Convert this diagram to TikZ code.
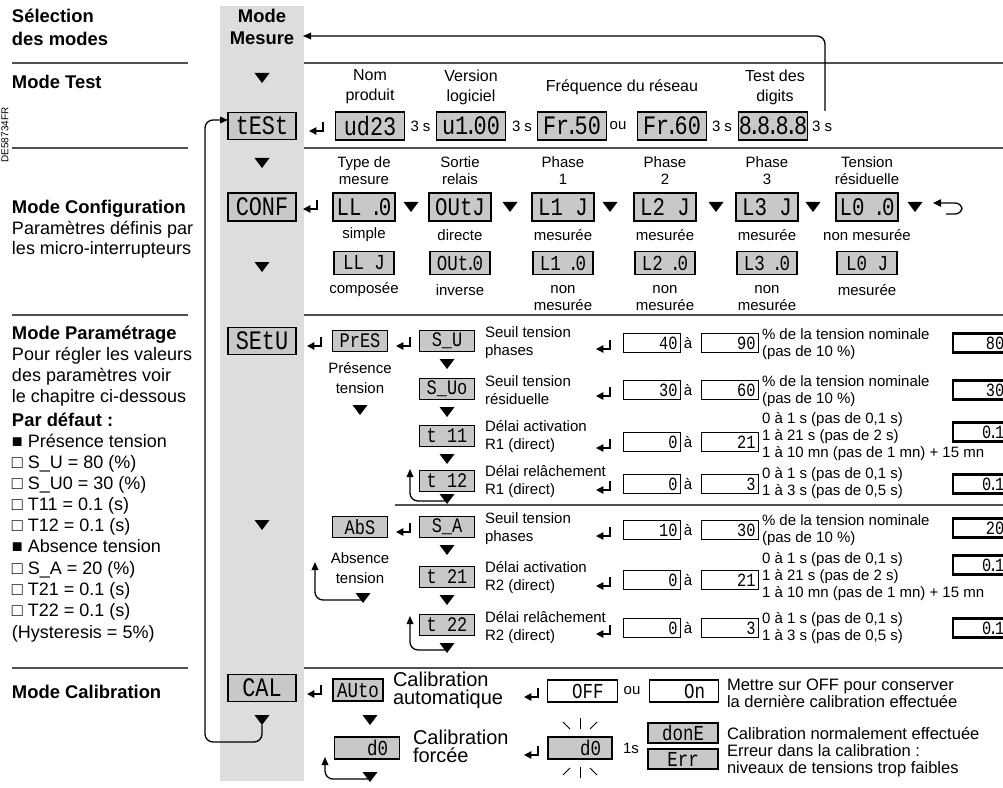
\documentclass[tikz,border=0pt]{standalone}
\usepackage{fontspec}
\setmainfont{Liberation Sans}
\newfontfamily\dispfont[FakeStretch=0.82]{Liberation Mono}
\usetikzlibrary{arrows.meta}
\definecolor{bandgray}{RGB}{221,221,221}
\definecolor{dispgray}{RGB}{200,200,200}
\definecolor{rulegray}{RGB}{80,80,80}
\newcommand\dd{\kern-0.06em\makebox[0.32em]{.}\kern-0.06em}
\newcommand\setuprow[8]{%
  \pic at (605,#2+6) {enter};
  \node[numbox] (#1lo) at (651.5,#2) {#3};
  \node[lab] (#1a) at (688,#2) {à};
  \node[numbox] (#1hi) at (729.5,#2) {#4};
  \node[labl3] (#1t) at (762,#5) {#6};
  \node[defbox] (#1d) at (983,#7) {#8};
}
\begin{document}
\begin{tikzpicture}[x=0.75pt,y=-0.75pt,
  every node/.style={inner sep=0pt,outer sep=0pt},
  tri/.pic={\fill (-7.5,-5) -- (7.5,-5) -- (0,5) -- cycle;
            \coordinate (-w) at (-2,2); \coordinate (-tip) at (0,5);},
  enter/.pic={\draw[line width=1.1pt,-{Triangle[length=5.5pt,width=5.5pt]}] (5,-9) -- (5,0) -- (-9,0);},
  bandbox/.style={draw,fill=dispgray,line width=1pt,minimum width=51pt,minimum height=20pt,
    font=\dispfont\fontsize{20}{20}\selectfont},
  testbox/.style={bandbox,minimum width=51.75pt,minimum height=21pt},
  confbox/.style={bandbox,minimum width=46.5pt,minimum height=21pt,line width=1.7pt,
    font=\dispfont\fontsize{19}{19}\selectfont},
  confboxb/.style={bandbox,minimum width=45pt,minimum height=17.25pt,line width=0.8pt,
    font=\dispfont\fontsize{16}{16}\selectfont},
  sbox/.style={draw,fill=dispgray,line width=0.9pt,minimum width=41.25pt,minimum height=15.75pt,
    font=\dispfont\fontsize{15.5}{15.5}\selectfont},
  numbox/.style={draw,fill=white,line width=0.7pt,minimum width=42.75pt,minimum height=14.25pt,
    text width=39pt,align=right,font=\dispfont\fontsize{14}{14}\selectfont},
  defbox/.style={draw,fill=white,line width=1.7pt,minimum width=45pt,minimum height=14.25pt,
    text width=32pt,align=right,font=\dispfont\fontsize{14}{14}\selectfont},
  autobox/.style={draw,fill=dispgray,line width=1.7pt,minimum width=37.5pt,minimum height=16.5pt,
    font=\dispfont\fontsize{16}{16}\selectfont},
  wbox/.style={draw,fill=white,line width=0.8pt,minimum width=52pt,minimum height=16.5pt,
    font=\dispfont\fontsize{16}{16}\selectfont},
  cbox/.style={draw,fill=dispgray,line width=0.9pt,minimum width=48.75pt,minimum height=16.5pt,
    font=\dispfont\fontsize{16}{16}\selectfont},
  rbox/.style={draw,fill=dispgray,line width=0.9pt,minimum width=52.5pt,minimum height=15pt,
    font=\dispfont\fontsize{16}{16}\selectfont},
  lab/.style={font=\fontsize{11.25}{12.75}\selectfont,align=center},
  labT/.style={font=\fontsize{12}{15}\selectfont,align=center},
  labl/.style={font=\fontsize{11.25}{13.5}\selectfont,align=left,anchor=west},
  labl3/.style={font=\fontsize{11.25}{12.75}\selectfont,align=left,anchor=west},
  leftb/.style={font=\bfseries\fontsize{13.8}{16}\selectfont,anchor=base west},
  leftr/.style={font=\fontsize{13.5}{16}\selectfont,anchor=base west},
  calf/.style={font=\fontsize{15}{13.5}\selectfont,align=left,anchor=west},
  calm/.style={font=\fontsize{12.4}{12.75}\selectfont,align=left,anchor=west},
  rule/.style={rulegray,line width=1.1pt},
  conn/.style={line width=1pt,rounded corners=6pt,-{Triangle[length=6pt,width=5pt]}},
  ray/.style={line width=0.6pt}
]
\useasboundingbox (0,0) rectangle (1003,788);
\fill[bandgray] (220,6) rectangle (304,781);

% ---------- left column ----------
\node[leftb] (hsel) at (12,23) {Sélection};
\node[leftb] (hdes) at (12,46) {des modes};
\draw[rule] (12,63) -- (188,63);
\node[leftb] (htest) at (12,89) {Mode Test};
\node[font=\fontsize{7.5}{8}\selectfont,rotate=90] (ref) at (5,135) {DE58734FR};
\draw[rule] (12,148) -- (188,148);
\node[leftb] (hconf) at (12,214) {Mode Configuration};
\node[leftr] (l1) at (12,234) {Paramètres définis par};
\node[leftr] (l2) at (12,254) {les micro-interrupteurs};
\draw[rule] (12,315) -- (188,315);
\node[leftb] (hpar) at (12,339) {Mode Paramétrage};
\node[leftr] (l3) at (12,360) {Pour régler les valeurs};
\node[leftr] (l4) at (12,381) {des paramètres voir};
\node[leftr] (l5) at (12,402) {le chapitre ci-dessous};
\node[leftb] (hdef) at (12,426) {Par défaut :};
\node[leftr] (l6) at (12,447) {■ Présence tension};
\node[leftr] (l7) at (12,468) {□ S\_U = 80 (\%)};
\node[leftr] (l8) at (12,489) {□ S\_U0 = 30 (\%)};
\node[leftr] (l9) at (12,510) {□ T11 = 0.1 (s)};
\node[leftr] (l10) at (12,531) {□ T12 = 0.1 (s)};
\node[leftr] (l11) at (12,552) {■ Absence tension};
\node[leftr] (l12) at (12,574) {□ S\_A = 20 (\%)};
\node[leftr] (l13) at (12,595) {□ T21 = 0.1 (s)};
\node[leftr] (l14) at (12,616) {□ T22 = 0.1 (s)};
\node[leftr] (l15) at (12,638) {(Hysteresis = 5\%)};
\draw[rule] (12,668) -- (188,668);
\node[leftb] (hcal) at (12,698) {Mode Calibration};

% ---------- right rules ----------
\draw[rule] (304,63) -- (1003,63);
\draw[rule] (304,148) -- (1003,148);
\draw[rule] (304,315) -- (1003,315);
\draw[rule] (395,505) -- (1003,505);
\draw[rule] (304,668) -- (1003,668);

% ---------- Mode Mesure / Test ----------
\node[font=\bfseries\fontsize{13.8}{16.5}\selectfont,align=center] (mesure) at (262,27) {Mode\\Mesure};
\pic (bt1) at (262,78) {tri};
\node[bandbox] (test) at (262,126) {tESt};
\pic at (318,131) {enter};
\node[testbox] (ud) at (370,126) {ud23};
\node[lab] (s1) at (420.5,126) {3 s};
\node[testbox] (ver) at (471,126) {u1\dd00};
\node[lab] (s2) at (522,126) {3 s};
\node[testbox] (f50) at (572,126) {Fr\dd50};
\node[lab] (ou1) at (618,126) {ou};
\node[testbox] (f60) at (672,126) {Fr\dd60};
\node[lab] (s3) at (722,126) {3 s};
\node[testbox] (d8) at (773,126) {8\dd8\dd8\dd8};
\node[lab] (s4) at (822,126) {3 s};
\node[labT] (hn) at (370,87) {Nom\\produit};
\node[labT] (hv) at (471,87) {Version\\logiciel};
\node[labT] (hf) at (622,87) {Fréquence du réseau};
\node[labT] (hd) at (775,87) {Test des\\digits};
\coordinate (retS) at (825,111);
\coordinate (retE) at (303,36);
\draw[conn] (retS) |- (retE);

% ---------- Configuration ----------
\pic (bt2) at (262,163) {tri};
\node[bandbox,minimum height=21pt] (conf) at (262,207) {CONF};
\pic (bt3) at (262,267) {tri};
\pic at (312,209) {enter};
\node[confbox] (c1) at (364,207) {LL~\dd0};
\node[confbox] (c2) at (460,207) {OUtJ};
\node[confbox] (c3) at (563,207) {L1~J};
\node[confbox] (c4) at (665,207) {L2~J};
\node[confbox] (c5) at (767,207) {L3~J};
\node[confbox] (c6) at (867,207) {L0~\dd0};
\pic at (411,207) {tri};
\pic at (510,207) {tri};
\pic at (610,207) {tri};
\pic at (716,207) {tri};
\pic at (813,207) {tri};
\pic at (915,207) {tri};
\coordinate (crA) at (946,214);
\coordinate (crB) at (933,203);
\draw[line width=1pt,rounded corners=5pt,-{Triangle[length=6pt,width=5.5pt]}] (crA) -- ++(16,0) |- (crB);
\node[confboxb] (d1) at (364,263) {LL~J};
\node[confboxb] (d2) at (460,263) {OUt\dd0};
\node[confboxb] (d3) at (563,263) {L1~\dd0};
\node[confboxb] (d4) at (665,263) {L2~\dd0};
\node[confboxb] (d5) at (767,263) {L3~\dd0};
\node[confboxb] (d6) at (867,263) {L0~J};
\node[lab] (ch1) at (364,170.5) {Type de\\mesure};
\node[lab] (ch2) at (460,170.5) {Sortie\\relais};
\node[lab] (ch3) at (563,170.5) {Phase\\1};
\node[lab] (ch4) at (665,170.5) {Phase\\2};
\node[lab] (ch5) at (767,170.5) {Phase\\3};
\node[lab] (ch6) at (867,170.5) {Tension\\résiduelle};
\node[lab] (cr1) at (364,235) {simple};
\node[lab] (cr2) at (460,235) {directe};
\node[lab] (cr3) at (563,235) {mesurée};
\node[lab] (cr4) at (665,235) {mesurée};
\node[lab] (cr5) at (767,235) {mesurée};
\node[lab] (cr6) at (867,235) {non mesurée};
\node[lab] (cs1) at (364,290) {composée};
\node[lab] (cs2) at (460,290) {inverse};
\node[lab] (cs3) at (563,298.5) {non\\mesurée};
\node[lab] (cs4) at (665,298.5) {non\\mesurée};
\node[lab] (cs5) at (767,298.5) {non\\mesurée};
\node[lab] (cs6) at (867,290) {mesurée};

% ---------- Paramétrage ----------
\node[bandbox] (setu) at (262,341) {SEtU};
\pic at (316,346) {enter};
\node[sbox] (pres) at (360,341) {PrES};
\pic at (405,346) {enter};
\node[sbox] (su) at (447,341) {S\_U~};
\pic at (447,364) {tri};
\node[sbox] (suo) at (447,389) {S\_Uo};
\pic at (447,412) {tri};
\node[sbox] (t11) at (447,436) {t~11};
\pic at (447,459) {tri};
\node[sbox] (t12) at (447,481) {t~12};
\pic (tri12) at (447,499) {tri};
\coordinate (up12) at (410,469);
\draw[conn] (tri12-w) -| (up12);
\node[lab,font=\fontsize{11.25}{14.5}\selectfont] (prlab) at (360,378) {Présence\\tension};
\pic at (360,410) {tri};
\node[labl] (la) at (485,343) {Seuil tension\\phases};
\node[labl] (lb) at (485,390) {Seuil tension\\résiduelle};
\node[labl] (lc) at (485,437) {Délai activation\\R1 (direct)};
\node[labl] (ld) at (485,481.5) {Délai relâchement\\R1 (direct)};

\setuprow{ra}{343}{40}{90}{344.5}{\% de la tension nominale\\(pas de 10 \%)}{343}{80}
\setuprow{rb}{390}{30}{60}{391.5}{\% de la tension nominale\\(pas de 10 \%)}{390}{30}
\setuprow{rc}{442}{0}{21}{437}{0 à 1 s (pas de 0,1 s)\\1 à 21 s (pas de 2 s)\\1 à 10 mn (pas de 1 mn) + 15 mn}{432}{0\dd1}
\setuprow{rd}{484}{0}{3}{483.5}{0 à 1 s (pas de 0,1 s)\\1 à 3 s (pas de 0,5 s)}{484}{0\dd1}
\setuprow{re}{530}{10}{30}{530.5}{\% de la tension nominale\\(pas de 10 \%)}{528}{20}
\setuprow{rf}{580}{0}{21}{577}{0 à 1 s (pas de 0,1 s)\\1 à 21 s (pas de 2 s)\\1 à 10 mn (pas de 1 mn) + 15 mn}{565}{0\dd1}
\setuprow{rg}{628}{0}{3}{628.5}{0 à 1 s (pas de 0,1 s)\\1 à 3 s (pas de 0,5 s)}{628}{0\dd1}

\pic (bt4) at (262,525) {tri};
\node[sbox] (abs) at (360,527) {AbS~};
\pic at (405,532) {enter};
\node[sbox] (sa) at (447,527) {S\_A~};
\pic at (447,550) {tri};
\node[sbox] (t21) at (447,577) {t~21};
\pic at (447,600) {tri};
\node[sbox] (t22) at (447,625) {t~22};
\pic (tri22) at (447,648) {tri};
\coordinate (up22) at (410,616);
\draw[conn] (tri22-w) -| (up22);
\node[lab,font=\fontsize{11.25}{14.5}\selectfont] (ablab) at (360,568) {Absence\\tension};
\pic (triabs) at (363,598) {tri};
\coordinate (upabs) at (315,562);
\draw[conn] (triabs-w) -| (upabs);
\node[labl] (le) at (485,528.5) {Seuil tension\\phases};
\node[labl] (lf) at (485,578) {Délai activation\\R2 (direct)};
\node[labl] (lg) at (485,628) {Délai relâchement\\R2 (direct)};

% ---------- Calibration ----------
\node[bandbox] (cal) at (262,688) {CAL~};
\pic (caltri) at (262,720) {tri};
\coordinate (loopc) at (205,742);
\draw[conn] (caltri-tip) |- (loopc) |- ([yshift=4.5pt]test.west);
\pic at (316,694) {enter};
\node[autobox] (auto) at (358,690) {AUto};
\node[calf] (calA) at (393,690.5) {Calibration\\automatique};
\pic at (533,697) {enter};
\node[wbox] (off) at (582.5,691) {~OFF};
\node[lab] (ou2) at (632,691) {ou};
\node[wbox] (on) at (684,691) {~~On};
\node[calm] (mt) at (727,693.5) {Mettre sur OFF pour conserver\\la dernière calibration effectuée};
\pic at (370,720) {tri};
\node[cbox] (d0) at (367,748) {~~d0};
\node[calf] (calF) at (413,746) {Calibration\\forcée};
\pic (trid0) at (370,777) {tri};
\coordinate (upd0) at (325,757);
\draw[conn] (trid0-w) -| (upd0);
\pic at (533,755) {enter};
\node[cbox,minimum width=48pt] (blink) at (580,748) {~~d0};
\draw[ray] (563,722) -- (570,729);
\draw[ray] (580,718) -- (580,729);
\draw[ray] (597,722) -- (590,729);
\draw[ray] (563,775) -- (570,768);
\draw[ray] (580,778) -- (580,767);
\draw[ray] (597,775) -- (590,768);
\node[lab] (one) at (631,748) {1s};
\node[rbox] (done) at (683,733) {donE};
\node[rbox] (err) at (683,759) {Err~};
\node[calm] (tdone) at (727,733) {Calibration normalement effectuée};
\node[calm] (terr) at (727,761) {Erreur dans la calibration :\\niveaux de tensions trop faibles};
\end{tikzpicture}
\end{document}
